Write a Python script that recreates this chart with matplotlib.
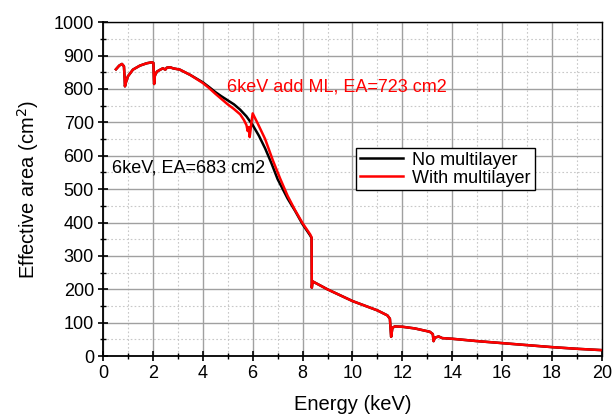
"""
Effective area vs energy, with and without the multilayer coating.
"""
import matplotlib
matplotlib.use('Agg')
import matplotlib.pyplot as plt
from matplotlib.ticker import MultipleLocator

plt.rcParams['font.family'] = ['Liberation Sans', 'DejaVu Sans']

# Effective area with multilayer (cm2).
energyWith = [0.52, 0.65, 0.76, 0.84, 0.87, 0.88, 0.92, 1.0, 1.2, 1.48, 1.75,
    1.96, 2.02, 2.05, 2.08, 2.16, 2.3, 2.4, 2.5, 2.56, 2.7, 2.8, 3.08, 3.5,
    4.0, 4.25, 4.5, 4.75, 5.0, 5.25, 5.5, 5.65, 5.75, 5.8, 5.85, 5.88, 5.92,
    5.95, 6.0, 6.2, 6.5, 6.8, 7.1, 7.4, 7.7, 8.0, 8.3, 8.36, 8.37, 8.40,
    8.45, 9.0, 10.0, 11.0, 11.4, 11.5, 11.55, 11.6, 11.7, 12.0, 12.5, 13.1,
    13.22, 13.25, 13.3, 13.45, 13.6, 14.0, 15, 16, 17, 18, 19, 20]
areaWith = [859, 870, 875, 868, 830, 808, 820, 838, 858, 870, 877,
    880, 878, 815, 840, 852, 858, 862, 858, 864, 865, 862, 858, 842,
    818, 803, 786, 770, 754, 740, 724, 707, 692, 674, 686, 656, 680,
    700, 727, 697, 650, 588, 532, 480, 437, 398, 365, 356, 205, 224,
    222, 200, 165, 137, 122, 112, 58, 85, 89, 88, 83, 73,
    66, 45, 55, 59, 54, 52, 45, 39, 33, 27, 22, 18]

# Effective area without multilayer (cm2).
energyNo = [0.52, 0.65, 0.76, 0.84, 0.87, 0.88, 0.92, 1.0, 1.2, 1.48, 1.75,
    1.96, 2.02, 2.05, 2.08, 2.16, 2.3, 2.4, 2.5, 2.56, 2.7, 2.8, 3.08, 3.5,
    4.0, 4.25, 4.5, 4.75, 5.0, 5.25, 5.5, 5.75, 6.0, 6.25, 6.5, 6.75, 7.0,
    7.4, 7.7, 8.0, 8.3, 8.36, 8.37, 8.40, 8.45, 9.0, 10.0, 11.0, 11.4, 11.5,
    11.55, 11.6, 11.7, 12.0, 12.5, 13.1, 13.22, 13.25, 13.3, 13.45, 13.6,
    14.0, 15, 16, 17, 18, 19, 20]
areaNo = [859, 870, 875, 868, 830, 808, 820, 838, 858, 870, 877,
    880, 878, 815, 840, 852, 858, 862, 858, 864, 865, 862, 858, 842,
    820, 806, 791, 778, 766, 754, 738, 718, 692, 660, 622, 578, 530,
    472, 435, 395, 362, 354, 205, 224, 222, 200, 165, 137, 122, 112,
    58, 85, 89, 88, 83, 73, 66, 45, 55, 59, 54,
    52, 45, 39, 33, 27, 22, 18]

seriesLabels = ['No multilayer', 'With multilayer']
noteWith = '6keV add ML, EA=723 cm2'
noteNo = '6keV, EA=683 cm2'

fig = plt.figure(figsize=(6.13, 4.19), dpi=100)
ax = fig.add_axes([0.168, 0.150, 0.814, 0.797])

ax.plot(energyNo, areaNo, color='black', lw=1.8, label=seriesLabels[0])
ax.plot(energyWith, areaWith, color='red', lw=1.8, label=seriesLabels[1])

ax.text(4.97, 805, noteWith, color='red', fontsize=13, va='center')
ax.text(0.36, 563, noteNo, color='black', fontsize=13, va='center')

ax.set_xlim(0, 20)
ax.set_ylim(0, 1000)
ax.xaxis.set_major_locator(MultipleLocator(2))
ax.xaxis.set_minor_locator(MultipleLocator(1))
ax.yaxis.set_major_locator(MultipleLocator(100))
ax.yaxis.set_minor_locator(MultipleLocator(50))

ax.grid(which='major', color='#a0a0a0', lw=1.0, ls='-')
ax.grid(which='minor', color='#c8c8c8', lw=0.8, ls=(0, (1.5, 2)))
ax.set_axisbelow(True)

ax.tick_params(which='both', direction='inout', top=False, right=False,
    labelsize=13)
ax.tick_params(which='major', length=7, width=1.2, pad=3)
ax.tick_params(which='minor', length=4, width=1.0)
for side in ['left', 'bottom']:
    ax.spines[side].set_linewidth(1.3)
for side in ['top', 'right']:
    ax.spines[side].set_linewidth(1.0)

ax.set_xlabel('Energy (keV)', fontsize=14.5, labelpad=9.5)
ax.set_ylabel('Effective area (cm$^2$)', fontsize=14.5, labelpad=9)

leg = ax.legend(loc='upper left', bbox_to_anchor=(0.508, 0.623), fontsize=13,
    frameon=True, fancybox=False, edgecolor='black', framealpha=1,
    handlelength=2.4, borderpad=0.2, labelspacing=0.05, handletextpad=0.5,
    borderaxespad=0)
leg.get_frame().set_linewidth(1.0)

fig.savefig('out.png', dpi=100)
